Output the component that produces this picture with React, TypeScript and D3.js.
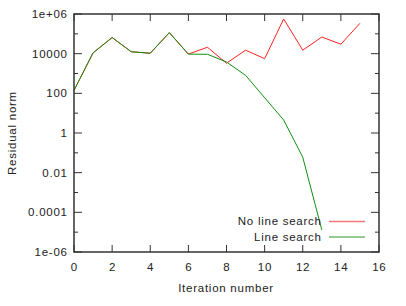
import React from "react";
import * as d3 from "d3";

const iterations = [0, 1, 2, 3, 4, 5, 6, 7, 8, 9, 10, 11, 12, 13, 14, 15];
const noLineSearch = [140, 11000, 65000, 12500, 10500, 115000, 9500, 21000, 3300, 15000, 5600, 560000, 15000, 69000, 30000, 340000];
const lineSearch = [140, 11000, 65000, 12500, 10500, 115000, 9500, 9300, 3800, 810, 60, 4.5, 0.06, 1.3e-5];
const xTicks = [0, 2, 4, 6, 8, 10, 12, 14, 16];
const yMajor = [1e-6, 1e-4, 1e-2, 1, 100, 1e4, 1e6];
const yLabels = ["1e-06", "0.0001", "0.01", "1", "100", "10000", "1e+06"];
const yMinor = [1e-5, 1e-3, 1e-1, 10, 1e3, 1e5];

const W = 406;
const H = 306;
const left = 74;
const right = 379;
const top = 14;
const bottom = 252;
const font = "'Liberation Sans', Arial, sans-serif";
const fs = 11.5;
const ls = 0.75;

const App = () => {
  const x = d3.scaleLinear().domain([0, 16]).range([left, right]);
  const y = d3.scaleLog().domain([1e-6, 1e6]).range([bottom, top]);

  const line = d3
    .line<number>()
    .x((d, i) => x(iterations[i]))
    .y((d) => y(d));

  const axisColor = "#333";
  const txt = { fontFamily: font, fontSize: fs, letterSpacing: ls, fill: "#222" };

  return (
    <svg width={W} height={H} style={{ position: "absolute", left: 0, top: 0, background: "#fff" }}>
      {/* ticks */}
      {xTicks.map((t) => (
        <g key={"x" + t} stroke={axisColor} strokeWidth={1}>
          <line x1={x(t)} x2={x(t)} y1={bottom} y2={bottom - 7} />
          <line x1={x(t)} x2={x(t)} y1={top} y2={top + 7} />
        </g>
      ))}
      {yMajor.map((t) => (
        <g key={"y" + t} stroke={axisColor} strokeWidth={1}>
          <line x1={left} x2={left + 8} y1={y(t)} y2={y(t)} />
          <line x1={right} x2={right - 8} y1={y(t)} y2={y(t)} />
        </g>
      ))}
      {yMinor.map((t) => (
        <g key={"m" + t} stroke={axisColor} strokeWidth={1}>
          <line x1={left} x2={left + 4} y1={y(t)} y2={y(t)} />
          <line x1={right} x2={right - 4} y1={y(t)} y2={y(t)} />
        </g>
      ))}

      {/* tick labels */}
      {xTicks.map((t) => (
        <text key={"xl" + t} x={x(t) + ls / 2} y={271} textAnchor="middle" {...txt}>
          {t}
        </text>
      ))}
      {yMajor.map((t, i) => (
        <text key={"yl" + t} x={67 + ls} y={y(t) + 4} textAnchor="end" {...txt}>
          {yLabels[i]}
        </text>
      ))}

      {/* axis titles */}
      <text x={226} y={292} textAnchor="middle" {...txt}>
        Iteration number
      </text>
      <text transform={`translate(16, ${(top + bottom) / 2}) rotate(-90)`} textAnchor="middle" {...txt}>
        Residual norm
      </text>

      {/* series */}
      <path d={line(noLineSearch) || ""} fill="none" stroke="#ff2020" strokeWidth={1} />
      <path d={line(lineSearch) || ""} fill="none" stroke="#109010" strokeWidth={1} />

      {/* legend */}
      <text x={321 + ls} y={225} textAnchor="end" {...txt}>
        No line search
      </text>
      <line x1={329} x2={365} y1={221.5} y2={221.5} stroke="#f07878" strokeWidth={1.5} />
      <text x={321 + ls} y={241} textAnchor="end" {...txt}>
        Line search
      </text>
      <line x1={329} x2={365} y1={237} y2={237} stroke="#70b870" strokeWidth={1.5} />

      {/* frame */}
      <rect x={left} y={top} width={right - left} height={bottom - top} fill="none" stroke={axisColor} strokeWidth={1.5} />
    </svg>
  );
};

export default App;
